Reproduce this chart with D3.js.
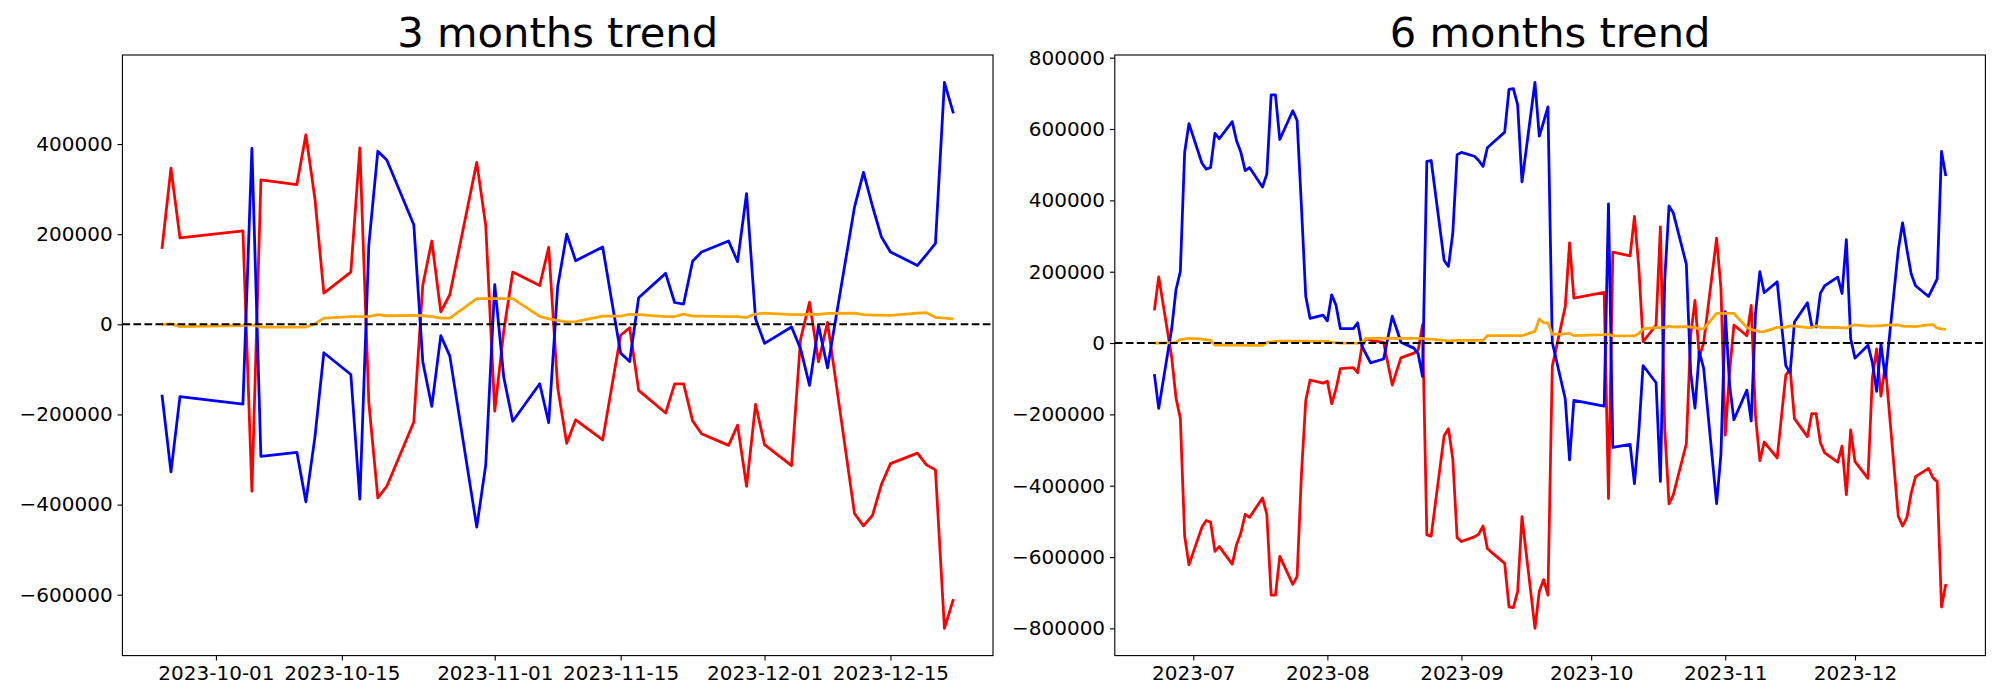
<!DOCTYPE html>
<html><head><meta charset="utf-8">
<script src="https://cdn.jsdelivr.net/npm/d3@7"></script>
<style>
body{margin:0;background:#fff}
svg{display:block}
text{font-family:"DejaVu Sans",sans-serif;fill:#000}
</style>
</head><body>
<svg id="chart" width="2000" height="700"></svg>
<script>
// ---------------- data ----------------
const dates3m = ["2023-09-25","2023-09-26","2023-09-27","2023-10-04","2023-10-05","2023-10-06","2023-10-10","2023-10-11","2023-10-12","2023-10-13","2023-10-16","2023-10-17","2023-10-18","2023-10-19","2023-10-20","2023-10-23","2023-10-24","2023-10-25","2023-10-26","2023-10-27","2023-10-30","2023-10-31","2023-11-01","2023-11-02","2023-11-03","2023-11-06","2023-11-07","2023-11-08","2023-11-09","2023-11-10","2023-11-13","2023-11-14","2023-11-15","2023-11-16","2023-11-17","2023-11-20","2023-11-21","2023-11-22","2023-11-23","2023-11-24","2023-11-27","2023-11-28","2023-11-29","2023-11-30","2023-12-01","2023-12-04","2023-12-05","2023-12-06","2023-12-07","2023-12-08","2023-12-11","2023-12-12","2023-12-13","2023-12-14","2023-12-15","2023-12-18","2023-12-19","2023-12-20","2023-12-21","2023-12-22"];
const datesEarly = ["2023-06-22","2023-06-23","2023-06-26","2023-06-27","2023-06-28","2023-06-29","2023-06-30","2023-07-03","2023-07-04","2023-07-05","2023-07-06","2023-07-07","2023-07-10","2023-07-11","2023-07-12","2023-07-13","2023-07-14","2023-07-17","2023-07-18","2023-07-19","2023-07-20","2023-07-21","2023-07-24","2023-07-25","2023-07-26","2023-07-27","2023-07-28","2023-07-31","2023-08-01","2023-08-02","2023-08-03","2023-08-04","2023-08-07","2023-08-08","2023-08-09","2023-08-10","2023-08-11","2023-08-14","2023-08-16","2023-08-17","2023-08-18","2023-08-21","2023-08-22","2023-08-23","2023-08-24","2023-08-25","2023-08-28","2023-08-29","2023-08-30","2023-08-31","2023-09-01","2023-09-04","2023-09-05","2023-09-06","2023-09-07","2023-09-08","2023-09-11","2023-09-12","2023-09-13","2023-09-14","2023-09-15","2023-09-18","2023-09-19","2023-09-20","2023-09-21","2023-09-22"];
const dates6m = datesEarly.concat(dates3m);

const red3m = [167500,346300,191700,207300,-370500,320400,310000,420600,279800,69100,115700,391200,-173600,-385200,-359300,-216800,87200,184800,27600,65600,359300,219300,-192800,-15000,116000,86000,171000,-140300,-264000,-212000,-256600,-140000,-24300,-7600,-146500,-196900,-132100,-132100,-214200,-242700,-268600,-223700,-359300,-177900,-266900,-313700,-33300,49000,-83200,4300,-419700,-447300,-424000,-354900,-309200,-285900,-311800,-323000,-674500,-609700];
const blue3m = [-156300,-327300,-160600,-177000,390300,-292800,-284100,-393800,-251300,-63000,-111400,-387800,176200,384300,364400,221100,-82900,-182200,-25000,-70000,-449900,-311800,88000,-117200,-215200,-132000,-218400,84000,200000,141000,171800,53000,-63500,-82500,59000,113100,48400,44900,140000,160600,184800,139000,290200,12100,-42300,-6000,-54000,-135400,-2500,-96900,260000,337000,262000,193600,160600,130600,154800,179700,537000,468000];
const orange3m = [0,900,-5200,-2600,-1000,-6000,-6000,-6000,900,13800,17300,17300,17300,21600,19000,19900,19000,17300,13800,13800,57000,57000,57000,57000,57000,17500,12100,9000,5500,6000,18000,18000,18000,22300,21500,17300,17300,22500,18100,18100,17300,17300,15500,22500,25000,21500,21500,22000,22000,24200,25000,21500,20500,20500,20000,25000,25900,15500,13800,12100];

const red6m = [91600,185500,-40000,-153800,-210600,-541100,-621900,-516000,-497500,-501900,-583700,-570600,-619700,-565100,-532400,-480000,-488800,-434200,-480000,-706900,-706900,-597900,-676400,-654600,-368800,-161500,-103600,-112400,-106900,-170200,-128700,-72000,-68700,-82900,-8700,13100,7600,2200,-117800,-79600,-41500,-28400,-19600,51300,-537900,-541100,-259700,-240000,-325100,-545500,-556400,-543300,-535700,-512800,-576000,-587000,-617600,-739700,-741900,-696100,-486600,-799700,-696100,-663300,-707000,-65500,
 102000,280800,126200,141800,-436000,254900,244500,355100,214300,3600,50200,325700,-239100,-450700,-424800,-282300,21700,119300,-37900,100,293800,153800,-258300,-80500,50500,20500,105500,-205800,-329500,-277500,-322100,-205500,-89800,-73100,-212000,-262400,-197600,-197600,-279700,-308200,-334100,-289200,-424800,-243400,-332400,-379200,-98800,-16500,-148700,-61200,-485200,-512800,-489500,-420400,-374700,-351400,-377300,-388500,-740000,-675200];
const blue6m = [-87300,-183300,40000,149500,200700,534600,615300,504000,487700,492000,588000,572800,620800,567300,534600,483300,492000,437500,473500,696000,696000,570600,651300,624100,384000,131000,69000,78500,62200,135300,105800,40400,40400,56700,-8700,-32700,-55600,-44700,75300,40000,2200,-14200,-30500,-93800,509500,511700,231300,214900,307700,528000,534600,523700,511700,495300,547700,558600,591300,711300,713500,667700,451700,731000,580400,620000,662300,2200,
 -156300,-327300,-160600,-177000,390300,-292800,-284100,-393800,-251300,-63000,-111400,-387800,176200,384300,364400,221100,-82900,-182200,-25000,-70000,-449900,-311800,88000,-117200,-215200,-132000,-218400,84000,200000,141000,171800,53000,-63500,-82500,59000,113100,48400,44900,140000,160600,184800,139000,290200,12100,-42300,-6000,-54000,-135400,-2500,-96900,260000,337000,262000,193600,160600,130600,154800,179700,537000,468000];
const orange6m = [0,0,1000,2200,9800,10900,13100,10900,9800,7600,-5500,-5500,-5500,-5500,-5500,-6500,-6500,-6500,2200,3300,4400,5500,5500,5500,5500,5500,4400,4400,4400,2200,1100,0,0,-1100,2200,13100,13100,13100,13100,13100,13100,13100,13100,13100,10900,10900,7600,5500,6500,7600,7600,7600,7600,7600,20700,20700,20700,20700,20700,20700,20700,32700,67600,56700,56700,24000,
 26000,26900,20800,23400,25000,20000,20000,20000,26900,39800,43300,43300,43300,47600,45000,45900,45000,43300,39800,39800,83000,83000,83000,83000,83000,43500,38100,35000,31500,32000,44000,44000,44000,48300,47500,43300,43300,48500,44100,44100,43300,43300,41500,48500,51000,47500,47500,48000,48000,50200,51000,47500,46500,46500,46000,51000,51900,41500,39800,38100];

const xTicks3m = ["2023-10-01","2023-10-15","2023-11-01","2023-11-15","2023-12-01","2023-12-15"];
const xTicks6m = ["2023-07-01","2023-08-01","2023-09-01","2023-10-01","2023-11-01","2023-12-01"];
const yTicks3m = [-600000,-400000,-200000,0,200000,400000];
const yTicks6m = [-800000,-600000,-400000,-200000,0,200000,400000,600000,800000];
const titles = ["3 months trend","6 months trend"];

// ---------------- drawing ----------------
const parse = d3.utcParse("%Y-%m-%d");
const svg = d3.select("#chart");
svg.append("rect").attr("width",2000).attr("height",700).attr("fill","#fff");

const TOP = 55, BOTTOM = 655.6;
const TICK = 4.86, PAD = 4.86, FS = 20, LW = 1.11;

function fmtY(v){ return v < 0 ? "\u2212" + Math.abs(v) : String(v); }

function panel(cfg){
  const t = cfg.dates.map(parse);
  const [tmin, tmax] = d3.extent(t);
  const tp = (tmax - tmin) * 0.05;
  const x = d3.scaleUtc().domain([new Date(+tmin - tp), new Date(+tmax + tp)]).range([cfg.x0, cfg.x1]);
  const all = cfg.red.concat(cfg.blue, cfg.orange);
  const [vmin, vmax] = d3.extent(all);
  const vp = (vmax - vmin) * 0.05;
  const y = d3.scaleLinear().domain([vmin - vp, vmax + vp]).range([BOTTOM, TOP]);

  const g = svg.append("g");

  const line = d3.line().x((d,i)=>x(t[i])).y(d=>y(d));
  const series = [[cfg.red,"#ff0000"],[cfg.blue,"#0000ff"],[cfg.orange,"#ffa500"]];
  series.forEach(([vals,col])=>{
    g.append("path").datum(vals).attr("d",line)
      .attr("fill","none").attr("stroke",col).attr("stroke-width",2.78)
      .attr("stroke-linejoin","round").attr("stroke-linecap","butt");
  });

  g.append("line").attr("x1",cfg.x0).attr("x2",cfg.x1).attr("y1",y(0)).attr("y2",y(0))
    .attr("stroke","#000").attr("stroke-width",2.08).attr("stroke-dasharray","7.7,3.33");

  // frame
  g.append("rect").attr("x",cfg.x0).attr("y",TOP).attr("width",cfg.x1-cfg.x0).attr("height",BOTTOM-TOP)
    .attr("fill","none").attr("stroke","#000").attr("stroke-width",LW);

  const xa = g.append("g").attr("transform",`translate(0,${BOTTOM})`)
    .call(d3.axisBottom(x).tickValues(cfg.xTicks.map(parse)).tickFormat(cfg.xFmt)
      .tickSize(TICK).tickPadding(PAD));
  const ya = g.append("g").attr("transform",`translate(${cfg.x0},0)`)
    .call(d3.axisLeft(y).tickValues(cfg.yTicks).tickFormat(fmtY).tickSize(TICK).tickPadding(PAD));
  [xa,ya].forEach(a=>{
    a.select(".domain").remove();
    a.selectAll(".tick line").attr("stroke","#000").attr("stroke-width",LW);
    a.selectAll(".tick text").attr("font-size",FS).attr("font-family","DejaVu Sans").attr("fill","#000");
  });

  g.append("text").attr("x",(cfg.x0+cfg.x1)/2).attr("y",46.5).attr("text-anchor","middle")
    .attr("font-size",41.67).text(cfg.title);
}

panel({x0:122.4, x1:993.0, dates:dates3m, red:red3m, blue:blue3m, orange:orange3m,
  xTicks:xTicks3m, xFmt:d3.utcFormat("%Y-%m-%d"), yTicks:yTicks3m, title:titles[0]});
panel({x0:1114.8, x1:1985.4, dates:dates6m, red:red6m, blue:blue6m, orange:orange6m,
  xTicks:xTicks6m, xFmt:d3.utcFormat("%Y-%m"), yTicks:yTicks6m, title:titles[1]});
</script>
</body></html>
